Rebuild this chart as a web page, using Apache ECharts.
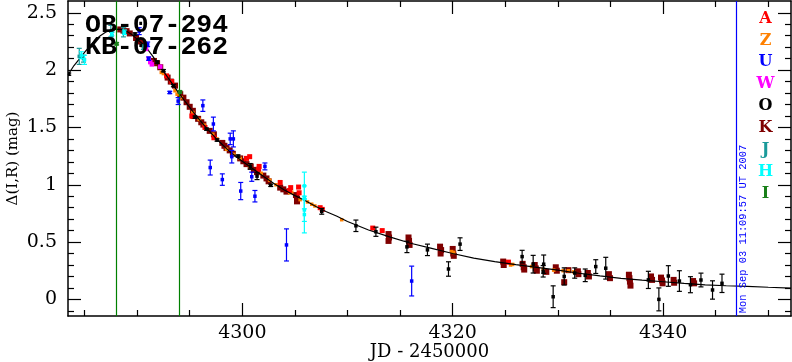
<!DOCTYPE html>
<html><head><meta charset="utf-8">
<script src="https://cdn.jsdelivr.net/npm/echarts@6/dist/echarts.min.js"></script>
<style>html,body{margin:0;padding:0;background:#fff}#c{width:792px;height:362px}</style>
</head><body><div id="c"></div>
<script>
// ---- data ----
const modelJD = [4283.43,4284,4284.5,4285,4285.5,4286,4286.5,4287,4287.5,4288,4288.5,4289,4289.5,4290,4290.5,4291,4291.5,4292,4292.5,4293,4293.5,4294,4294.5,4295,4295.5,4296,4296.5,4297,4297.5,4298,4298.5,4299,4299.5,4300,4301,4302,4303,4304,4305,4306,4307,4308,4309,4310,4312,4314,4316,4318,4320,4322,4324,4326,4328,4330,4332,4334,4336,4338,4340,4342,4344,4346,4348,4350,4352.16];
const modelMag = [1.96,2.04,2.095,2.155,2.21,2.26,2.30,2.33,2.35,2.358,2.355,2.34,2.31,2.27,2.23,2.18,2.12,2.05,1.99,1.925,1.86,1.795,1.735,1.675,1.615,1.56,1.505,1.455,1.405,1.36,1.315,1.275,1.24,1.205,1.14,1.075,1.01,0.955,0.905,0.86,0.81,0.765,0.725,0.68,0.605,0.545,0.49,0.445,0.40,0.36,0.33,0.303,0.28,0.255,0.228,0.205,0.183,0.168,0.154,0.14,0.127,0.119,0.113,0.106,0.099];

// A (red): [JD, mag]
const ptsA = [[4292.8,1.95],[4293.3,1.90],[4295.2,1.60],[4295.3,1.595],[4296.45,1.50],[4297.3,1.41],[4300.4,1.23],[4300.7,1.245],[4301.55,1.135],[4301.6,1.16],[4303.6,1.02],[4304.5,0.95],[4304.6,0.975],[4305.35,0.98],[4305.4,0.93],[4307.4,0.80],[4307.6,0.785],[4312.4,0.622],[4313.3,0.60],[4325.3,0.325]];
// Z (orange)
const ptsZ = [[4292.3,1.98],[4292.5,1.97],[4293.6,1.82],[4293.8,1.79],[4294.2,1.76],[4295.3,1.63],[4295.9,1.57],[4296.4,1.52],[4297.2,1.44],[4297.6,1.40],[4298.5,1.31],[4299.2,1.265],[4299.8,1.23],[4300.7,1.16],[4301.8,1.10],[4302.6,1.04],[4303.2,1.0],[4304.5,0.93],[4304.7,0.935],[4305.5,0.87],[4306.2,0.85],[4306.6,0.83],[4306.9,0.815],[4309.45,0.695],[4319.9,0.417],[4320.1,0.41],[4325.5,0.30],[4325.7,0.305],[4327.5,0.286],[4328.6,0.263],[4329.6,0.255],[4330.5,0.25],[4331.0,0.25],[4331.5,0.24]];
// U (blue): [JD, mag, err]
const ptsU = [[4290.2,2.34,0.03],[4291.0,2.225,0.02],[4291.1,2.10,0.015],[4293.1,1.805,0.01],[4293.9,1.73,0.03],[4296.25,1.69,0.05],[4297.25,1.53,0.06],[4296.95,1.15,0.065],[4298.1,1.045,0.05],[4298.85,1.40,0.05],[4299.15,1.40,0.07],[4299.0,1.245,0.055],[4299.85,0.945,0.075],[4300.9,1.07,0.04],[4301.2,0.90,0.05],[4302.15,1.16,0.03],[4304.2,0.475,0.14],[4316.1,0.16,0.13]];
// W (magenta)
const ptsW = [[4290.85,2.185],[4291.1,2.10],[4291.25,2.07],[4291.4,2.05],[4292.2,2.03]];
// O (black): [JD, mag, err]
const ptsO = [[4283.5,1.965,0.01],[4289.8,2.315,0.01],[4291.9,2.07,0.01],[4292.5,1.995,0.01],[4293.45,1.865,0.01],[4295.5,1.59,0.01],[4296.6,1.485,0.01],[4297.6,1.39,0.01],[4299.6,1.25,0.01],[4300.75,1.16,0.025],[4301.4,1.075,0.03],[4302.7,0.995,0.01],[4307.55,0.768,0.025],[4310.8,0.642,0.05],[4312.7,0.59,0.04],[4315.65,0.458,0.05],[4317.6,0.432,0.05],[4319.6,0.265,0.063],[4320.7,0.482,0.055],[4326.6,0.373,0.055],[4327.65,0.307,0.077],[4328.65,0.307,0.08],[4328.6,0.245,0.05],[4329.55,0.023,0.095],[4330.6,0.2,0.075],[4331.6,0.23,0.045],[4332.6,0.21,0.055],[4333.6,0.286,0.06],[4334.55,0.272,0.095],[4338.6,0.17,0.075],[4339.6,0.0,0.1],[4340.5,0.204,0.09],[4341.55,0.16,0.09],[4342.6,0.128,0.07],[4343.6,0.169,0.06],[4344.7,0.082,0.08],[4345.6,0.14,0.08]];
// K (dark red)
const ptsK = [[4288.4,2.355],[4288.7,2.345],[4289.0,2.34],[4289.3,2.32],[4289.9,2.28],[4290.3,2.25],[4290.6,2.225],[4291.6,2.08],[4291.9,2.06],[4292.2,2.025],[4292.9,1.935],[4293.2,1.90],[4293.6,1.865],[4294.1,1.79],[4294.4,1.76],[4294.7,1.72],[4295.0,1.68],[4295.3,1.645],[4295.8,1.575],[4296.1,1.545],[4296.3,1.525],[4296.9,1.47],[4297.3,1.44],[4298.1,1.365],[4298.3,1.34],[4298.5,1.32],[4298.8,1.30],[4299.1,1.27],[4299.8,1.23],[4300.1,1.205],[4300.4,1.18],[4300.8,1.16],[4301.1,1.13],[4301.4,1.11],[4302.0,1.08],[4302.3,1.055],[4302.5,1.03],[4303.6,0.975],[4303.9,0.96],[4304.2,0.94],[4305.1,0.91],[4305.2,0.88],[4305.2,0.855],[4313.9,0.57],[4313.95,0.54],[4313.9,0.51],[4315.8,0.54],[4315.85,0.51],[4315.9,0.475],[4318.8,0.46],[4318.9,0.43],[4318.85,0.40],[4320.0,0.44],[4320.05,0.40],[4320.1,0.38],[4324.8,0.33],[4324.85,0.30],[4326.65,0.31],[4326.75,0.28],[4326.8,0.26],[4327.8,0.30],[4327.9,0.27],[4328.0,0.25],[4328.9,0.24],[4329.8,0.28],[4329.9,0.25],[4330.6,0.15],[4331.0,0.255],[4331.9,0.245],[4331.95,0.22],[4332.85,0.23],[4332.95,0.20],[4334.85,0.22],[4334.95,0.185],[4336.75,0.215],[4336.8,0.185],[4336.85,0.155],[4336.9,0.12],[4338.85,0.2],[4338.95,0.17],[4339.8,0.19],[4339.9,0.165],[4339.95,0.14],[4341.0,0.17],[4341.05,0.145],[4342.85,0.16],[4342.95,0.14]];
// J (teal): [JD, mag, err]
const ptsJ = [[4284.5,2.12,0.07],[4284.9,2.10,0.03],[4287.5,2.34,0.05],[4287.6,2.30,0.03],[4288.7,2.33,0.04],[4290.6,2.20,0.02]];
// H (cyan): [JD, mag, err]
const ptsH = [[4284.7,2.13,0.03],[4285.0,2.09,0.04],[4287.6,2.32,0.02],[4288.8,2.33,0.02],[4305.9,0.99,0.12],[4305.9,0.89,0.1],[4305.9,0.78,0.1],[4305.9,0.74,0.16]];
// I (green): [JD, mag, err]
const ptsI = [[4288.05,2.23,0.01],[4294.07,1.81,0.01]];

const markJD = [4288, 4294];
const nowJD = 4346.965;
const xMajorTicks = [4300, 4320, 4340];
const xMinorTicks = [4285,4290,4295,4305,4310,4315,4325,4330,4335,4345,4350];
const yMajorTicks = [0, 0.5, 1, 1.5, 2, 2.5];
const yMinorTicks = [-0.1,0.1,0.2,0.3,0.4,0.6,0.7,0.8,0.9,1.1,1.2,1.3,1.4,1.6,1.7,1.8,1.9,2.1,2.2,2.3,2.4];
const legendNames = ['A','Z','U','W','O','K','J','H','I'];
const titleLines = ['OB-07-294', 'KB-07-262'];
const stamp = 'Mon Sep 03 11:09:57 UT 2007';

// ---- chart ----
const COL = {A:'#ff0000',Z:'#ff8000',U:'#0000ff',W:'#ff00ff',O:'#000000',K:'#7f0000',J:'#1a9a9a',H:'#00ffff',I:'#1a801a'};
const XMIN = 4283.43, XMAX = 4352.16, YMIN = -0.145, YMAX = 2.603;
const SERIF = '"DejaVu Serif", serif';
const axLine = {color:'#000', width:1.5};
const plain = v => String(v);

function xAx(pos, major, withLabel) {
  const a = {type:'value', min:XMIN, max:XMAX, position:pos, gridIndex:0,
    splitLine:{show:false},
    axisLine:{show:major, onZero:false, lineStyle:axLine},
    axisTick:{show:true, inside:true, length: major?13:6, customValues: major?xMajorTicks:xMinorTicks, lineStyle:{color:'#000', width:1.2}},
    axisLabel:{show:withLabel, customValues:xMajorTicks, formatter:plain, color:'#000', fontFamily:SERIF, fontSize:19, margin:8}};
  if (withLabel) { a.name = 'JD - 2450000'; a.nameLocation = 'middle'; a.nameGap = 27; a.nameMoveOverlap = false; a.nameTextStyle = {color:'#000', fontFamily:SERIF, fontSize:18, verticalAlign:'top'}; }
  return a;
}
function yAx(pos, major, withLabel) {
  const a = {type:'value', min:YMIN, max:YMAX, position:pos, gridIndex:0,
    splitLine:{show:false},
    axisLine:{show:major, onZero:false, lineStyle:axLine},
    axisTick:{show:true, inside:true, length: major?13:6, customValues: major?yMajorTicks:yMinorTicks, lineStyle:{color:'#000', width:1.2}},
    axisLabel:{show:withLabel, customValues:yMajorTicks, formatter:plain, color:'#000', fontFamily:SERIF, fontSize:19, margin:11}};
  if (withLabel) { a.name = 'Δ(I,R) (mag)'; a.nameLocation = 'middle'; a.nameGap = 47; a.nameMoveOverlap = false; a.nameRotate = 90; a.nameTextStyle = {color:'#000', fontFamily:SERIF, fontSize:15}; }
  return a;
}

function errSeries(name, data, size) {
  const color = COL[name];
  return {type:'custom', name, data, xAxisIndex:0, yAxisIndex:0, clip:true, z:5,
    encode:{x:0, y:1},
    renderItem(params, api) {
      const x = api.value(0), y = api.value(1), e = api.value(2);
      const c = api.coord([x, y]);
      const hi = api.coord([x, y + e])[1], lo = api.coord([x, y - e])[1];
      const h = size / 2, cap = 2.5;
      const st = {stroke: color, lineWidth: 1.2};
      return {type:'group', children:[
        {type:'line', shape:{x1:c[0], y1:hi, x2:c[0], y2:lo}, style:st},
        {type:'line', shape:{x1:c[0]-cap, y1:hi, x2:c[0]+cap, y2:hi}, style:st},
        {type:'line', shape:{x1:c[0]-cap, y1:lo, x2:c[0]+cap, y2:lo}, style:st},
        {type:'rect', shape:{x:c[0]-h, y:c[1]-h, width:size, height:size}, style:{fill:color}}
      ]};
    }};
}
function sqSeries(name, data, size, z) {
  return {type:'scatter', name, data, symbol:'rect', symbolSize:size, z:z,
    itemStyle:{color:COL[name], opacity:1}, xAxisIndex:0, yAxisIndex:0};
}

const graphics = [];
titleLines.forEach((t, i) => graphics.push({type:'text', x:85, y:25 + i*22, z:100,
  style:{text:t, font:'bold 26.5px "Liberation Mono"', fontFamily:'Liberation Mono', fontSize:26.5, fontWeight:'bold', fill:'#000', textAlign:'left', align:'left', textVerticalAlign:'middle', verticalAlign:'middle'}}));
legendNames.forEach((n, i) => graphics.push({type:'text', x:765.5, y:18.5 + i*21.9, z:100,
  style:{text:n, font:'bold 16px "DejaVu Serif"', fontFamily:'DejaVu Serif', fontSize:16, fontWeight:'bold', fill:COL[n], textAlign:'center', align:'center', textVerticalAlign:'middle', verticalAlign:'middle'}}));
graphics.push({type:'text', x:743.5, y:229, rotation:Math.PI/2, z:100,
  style:{text:stamp, font:'10.4px "Liberation Mono"', fontFamily:'Liberation Mono', fontSize:10.4, fill:'#0000ff', textAlign:'center', align:'center', textVerticalAlign:'middle', verticalAlign:'middle'}});

const option = {
  animation:false,
  backgroundColor:'#fff',
  grid:{left:68, right:1, top:1, bottom:46, containLabel:false, outerBoundsMode:'none'},
  xAxis:[xAx('bottom', true, true), xAx('bottom', false, false), xAx('top', true, false), xAx('top', false, false)],
  yAxis:[yAx('left', true, true), yAx('left', false, false), yAx('right', true, false), yAx('right', false, false)],
  graphic:graphics,
  series:[
    {type:'line', name:'model', data: modelJD.map((x, i) => [x, modelMag[i]]), showSymbol:false, symbol:'none',
     lineStyle:{color:'#000', width:1.2}, z:3, silent:true,
     markLine:{symbol:'none', silent:true, label:{show:false}, animation:false,
       data:[
         {xAxis:markJD[0], lineStyle:{color:'#008000', width:1.2, type:'solid'}},
         {xAxis:markJD[1], lineStyle:{color:'#008000', width:1.2, type:'solid'}},
         {xAxis:nowJD, lineStyle:{color:'#0000ff', width:1.2, type:'solid'}}
       ]}},
    sqSeries('K', ptsK, 6, 2),
    sqSeries('Z', ptsZ, 3.5, 2),
    sqSeries('A', ptsA, 5, 2),
    sqSeries('W', ptsW, 4.5, 4),
    errSeries('U', ptsU, 3.5),
    errSeries('J', ptsJ, 3.5),
    errSeries('H', ptsH, 3.5),
    errSeries('I', ptsI, 4),
    errSeries('O', ptsO, 3.5)
  ]
};
const chart = echarts.init(document.getElementById('c'), null, {renderer:'canvas'});
chart.setOption(option);
</script></body></html>
